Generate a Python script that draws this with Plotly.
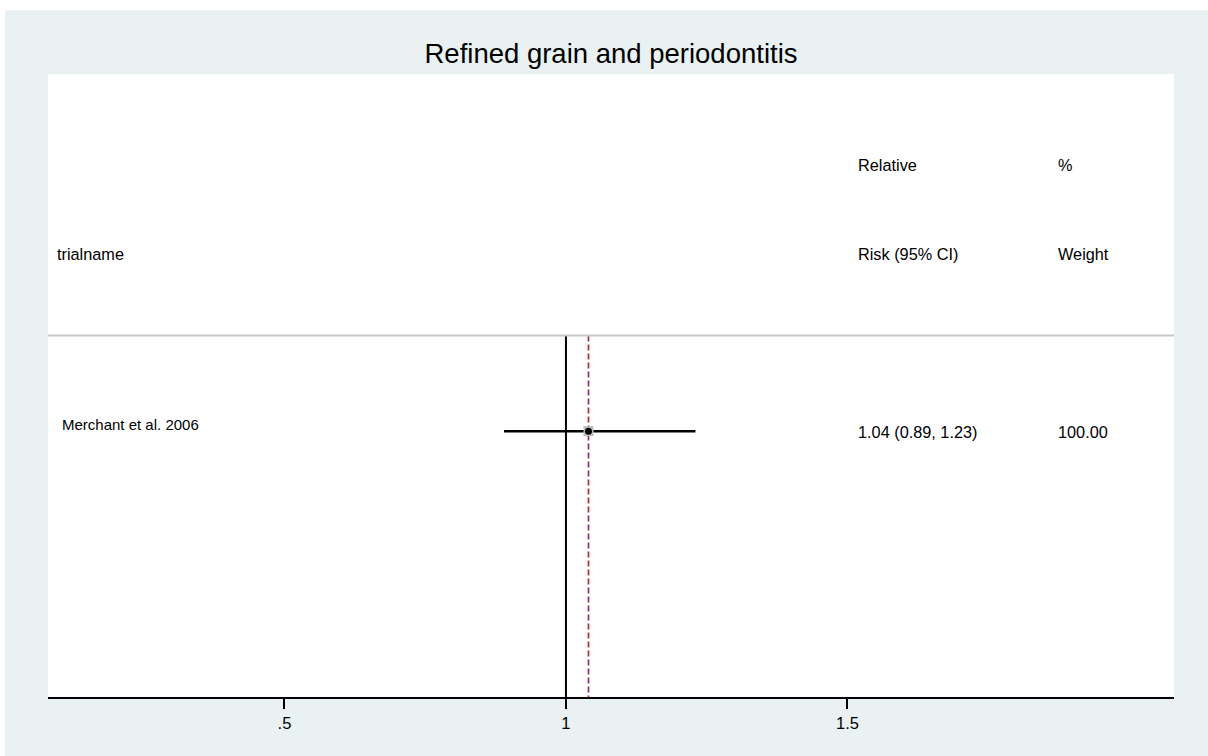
import plotly.graph_objects as go

# ---- data ----
studies = ["Merchant et al. 2006"]
rr = [1.04]
ci_low = [0.89]
ci_high = [1.23]
weights = [100.00]
overall_rr = 1.04
null_value = 1.0
tick_vals = [0.5, 1.0, 1.5]
tick_text = [".5", "1", "1.5"]
title_text = "Refined grain and periodontitis"
header_top = ["", "Relative", "%"]
header_bottom = ["trialname", "Risk (95% CI)", "Weight"]

# ---- layout constants ----
FONT = "Liberation Sans, Arial, sans-serif"
W, H = 1208, 756
L, R, T, B = 48, 1208 - 1174, 74, 756 - 697
XR = [0.08, 2.08]
YR = [6.0, -1.03]          # rows, increasing downward
ROW_HDR1, ROW_HDR2 = 0.0, 1.0
ROW_SEP = 1.92
study_rows = [3.0 + i for i in range(len(studies))]
COL_NAME_HDR, COL_NAME = 0.093, 0.101
COL_CI, COL_W = 1.515, 1.870
BG = "#E9F1F3"

fig = go.Figure()

# null line and overall line
fig.add_trace(go.Scatter(x=[null_value, null_value], y=[ROW_SEP, YR[0]], mode="lines",
                         line=dict(color="black", width=2), hoverinfo="skip", showlegend=False))
fig.add_trace(go.Scatter(x=[overall_rr, overall_rr], y=[ROW_SEP, YR[0]], mode="lines",
                         line=dict(color="#A3303F", width=1.7, dash="6px,3px"),
                         hoverinfo="skip", showlegend=False))

# CI lines
for lo, hi, yy in zip(ci_low, ci_high, study_rows):
    fig.add_trace(go.Scatter(x=[lo, hi], y=[yy, yy], mode="lines",
                             line=dict(color="black", width=2.5), hoverinfo="skip", showlegend=False))
# weight boxes + point estimates
fig.add_trace(go.Scatter(x=rr, y=study_rows, mode="markers",
                         marker=dict(symbol="square", size=10, color="#BDBDBD"),
                         hoverinfo="skip", showlegend=False))
fig.add_trace(go.Scatter(x=rr, y=study_rows, mode="markers",
                         marker=dict(symbol="circle", size=7, color="black"),
                         showlegend=False))

ann = []
def txt(x, y, s, size=16.3):
    ann.append(dict(x=x, y=y, xref="x", yref="y", text=s, showarrow=False,
                    xanchor="left", yanchor="middle",
                    font=dict(family=FONT, size=size, color="black")))

cols = [COL_NAME_HDR, COL_CI, COL_W]
for c, s in zip(cols, header_top):
    if s:
        txt(c, ROW_HDR1, s)
for c, s in zip(cols, header_bottom):
    txt(c, ROW_HDR2, s)

for name, r, lo, hi, w, yy in zip(studies, rr, ci_low, ci_high, weights, study_rows):
    txt(COL_NAME, yy - 0.08, name, size=15)
    txt(COL_CI, yy + 0.01, f"{r:.2f} ({lo:.2f}, {hi:.2f})")
    txt(COL_W, yy + 0.01, f"{w:.2f}")

pw, ph = W - L - R, H - T - B
def px2paper_x(px): return (px - L) / pw
def px2paper_y(py): return (H - B - py) / ph

shapes = [
    # outer white band (top and left)
    dict(type="rect", xref="paper", yref="paper", layer="below",
         x0=px2paper_x(0), x1=px2paper_x(W), y0=px2paper_y(10), y1=px2paper_y(0),
         fillcolor="white", line=dict(width=0)),
    dict(type="rect", xref="paper", yref="paper", layer="below",
         x0=px2paper_x(0), x1=px2paper_x(5), y0=px2paper_y(H), y1=px2paper_y(0),
         fillcolor="white", line=dict(width=0)),
    # separator line
    dict(type="line", xref="paper", yref="y", x0=0, x1=1, y0=ROW_SEP, y1=ROW_SEP,
         line=dict(color="#C8C8C8", width=2)),
]

fig.update_layout(
    width=W, height=H,
    margin=dict(l=L, r=R, t=T, b=B, pad=0),
    paper_bgcolor=BG, plot_bgcolor="white",
    title=dict(text=title_text, x=0.5, xref="paper", xanchor="center",
               y=1 - 53 / H, yref="container", yanchor="middle",
               font=dict(family=FONT, size=27.5, color="black")),
    xaxis=dict(range=XR, showgrid=False, zeroline=False, showline=True,
               linecolor="black", linewidth=2, ticks="outside", ticklen=10,
               tickwidth=1.5, tickcolor="black", tickvals=tick_vals, ticktext=tick_text,
               tickfont=dict(family=FONT, size=16.5, color="black"), fixedrange=True),
    yaxis=dict(range=YR, visible=False, showgrid=False, zeroline=False, fixedrange=True),
    annotations=ann, shapes=shapes, showlegend=False,
)

fig.write_html("out.html")
